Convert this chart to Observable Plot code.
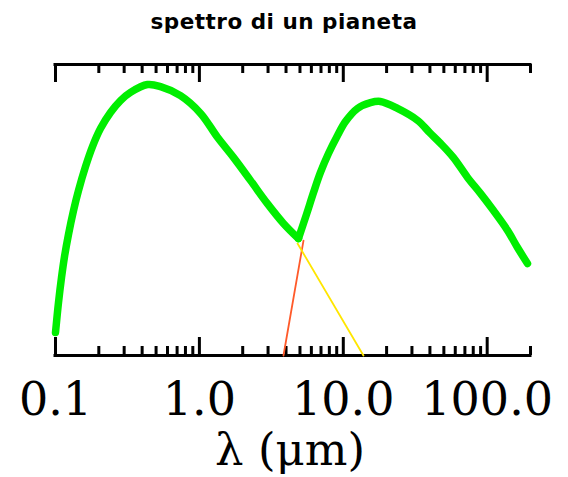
<!DOCTYPE html>
<html><head><meta charset="utf-8">
<script src="https://cdn.jsdelivr.net/npm/d3@7"></script>
<script src="https://cdn.jsdelivr.net/npm/@observablehq/plot@0.6"></script>
<style>
html,body{margin:0;padding:0;background:#fff;overflow:hidden;}
#title{width:568px;height:40px;box-sizing:border-box;padding-top:4px;line-height:36px;text-align:center;font-family:"DejaVu Sans",sans-serif;font-weight:bold;font-size:21.5px;letter-spacing:0.5px;color:#000;}
#chart svg{display:block;}
</style></head><body>
<div id="title">spettro di un pianeta</div>
<div id="chart"></div>
<script>
// Spectrum: reflected (left hump) and thermal (right hump), arbitrary flux units (0..100)
const wavelengthLeft = [0.1, 0.1049, 0.1101, 0.1155, 0.1231, 0.1334, 0.1445, 0.1616, 0.1807, 0.2054, 0.2411, 0.2829, 0.332, 0.436, 0.537, 0.739, 1.02, 1.34, 1.73, 2.27, 2.97, 3.84, 4.88];
const fluxLeft       = [7.9, 18.2, 26.8, 34.0, 41.6, 49.8, 56.7, 64.9, 71.8, 78.0, 83.5, 87.6, 90.4, 93.1, 92.4, 89.3, 83.2, 74.9, 68.0, 60.1, 52.2, 45.4, 40.2];
const wavelengthRight = [4.88, 5.55, 6.21, 6.94, 7.89, 9.12, 10.36, 12.55, 15.45, 18.1, 23.8, 32.8, 40.0, 47.4, 58.3, 73.0, 89.8, 110.6, 138.4, 162.4, 190.6];
const fluxRight       = [40.2, 48.5, 56.0, 62.9, 69.4, 75.6, 80.4, 84.9, 86.9, 87.3, 84.9, 80.8, 76.5, 72.9, 68.0, 61.2, 55.7, 49.8, 43.0, 37.1, 31.6];
// extrapolation lines below the minimum
const redX = [3.84, 5.29];
const redY = [0, 39.5];
const yellowX = [13.8, 4.81];
const yellowY = [0, 38.5];
// axis ticks
const majorTicks = [0.1, 1, 10, 100];
const majorLabels = ["0.1", "1.0", "10.0", "100.0"];
const minorTicks = [0.2, 0.3, 0.4, 0.5, 0.6, 0.7, 0.8, 0.9, 2, 3, 4, 5, 6, 7, 8, 9, 20, 30, 40, 50, 60, 70, 80, 90, 200];
const axisLabel = "λ (μm)";

const left = wavelengthLeft.map((w, i) => ({w, f: fluxLeft[i]}));
const right = wavelengthRight.map((w, i) => ({w, f: fluxRight[i]}));
const red = redX.map((w, i) => ({w, f: redY[i]}));
const yellow = yellowX.map((w, i) => ({w, f: yellowY[i]}));

const width = 568, height = 437, marginTop = 24, marginBottom = 122, marginLeft = 55, marginRight = 38;
const innerH = height - marginTop - marginBottom;
const majorLen = 18, minorLen = 9;
const serif = "'DejaVu Serif', serif";

const chart = Plot.plot({
  width, height, marginTop, marginBottom, marginLeft, marginRight,
  x: {type: "log", domain: [0.1, 200], axis: null},
  y: {domain: [0, 100], axis: null},
  marks: [
    Plot.ruleY([0, 100], {stroke: "#000", strokeWidth: 3, strokeLinecap: "square"}),
    Plot.tickX(majorTicks, {x: d => d, stroke: "#000", strokeWidth: 3, insetTop: innerH - majorLen}),
    Plot.tickX(minorTicks, {x: d => d, stroke: "#000", strokeWidth: 3, insetTop: innerH - minorLen}),
    Plot.tickX(majorTicks, {x: d => d, stroke: "#000", strokeWidth: 3, insetBottom: innerH - majorLen}),
    Plot.tickX(minorTicks, {x: d => d, stroke: "#000", strokeWidth: 3, insetBottom: innerH - minorLen}),
    Plot.text(majorTicks, {x: d => d, text: (d, i) => majorLabels[i], frameAnchor: "bottom", dy: 59, textAnchor: "middle", lineAnchor: "bottom", fontSize: 46, fontFamily: serif, fill: "#000"}),
    Plot.text([axisLabel], {text: d => d, frameAnchor: "bottom", dy: 109, dx: -3, lineAnchor: "bottom", fontSize: 45, fontFamily: serif, fill: "#000"}),
    Plot.line(red, {x: "w", y: "f", stroke: "#ff5a2a", strokeWidth: 1.8}),
    Plot.line(yellow, {x: "w", y: "f", stroke: "#ffe600", strokeWidth: 1.8}),
    Plot.line(left, {x: "w", y: "f", curve: "catmull-rom", stroke: "#00ee00", strokeWidth: 7.5, strokeLinejoin: "round"}),
    Plot.line(right, {x: "w", y: "f", curve: "catmull-rom", stroke: "#00ee00", strokeWidth: 7.5, strokeLinejoin: "round"})
  ]
});
document.getElementById("chart").appendChild(chart);
</script>
</body></html>
